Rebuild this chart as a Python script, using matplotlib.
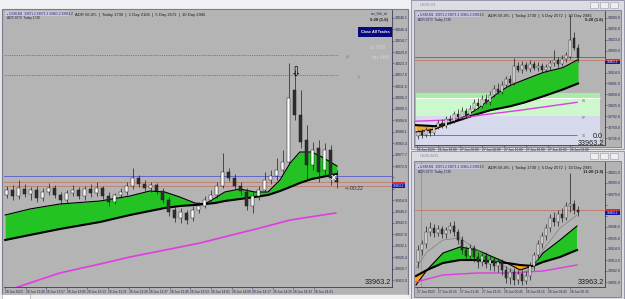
import numpy as np
import matplotlib
matplotlib.use("Agg")
import matplotlib.pyplot as plt
from matplotlib.patches import Rectangle
from matplotlib.ticker import MultipleLocator, FuncFormatter

plt.rcParams['font.family'] = ['Liberation Sans', 'DejaVu Sans']

W, H = 625, 299

# ---------------- left chart: US30,M1 ----------------
left_open = [33957.5, 33960, 33957, 33960.5, 33958, 33960, 33956, 33959, 33961, 33957.5,
             33955, 33958.5, 33960, 33957, 33960.5, 33958.5, 33961, 33957, 33954, 33957.5,
             33959, 33962, 33966, 33963, 33961, 33962.5, 33959.5, 33955, 33950, 33946,
             33948.5, 33946, 33950, 33952, 33955, 33957.5, 33962, 33969, 33966, 33962,
             33959, 33952, 33957, 33960, 33965, 33967, 33970, 33974, 34010, 33997.5,
             33985, 33972.5, 33981, 33970, 33980, 33966]
left_close = [33960, 33957, 33961, 33958, 33960, 33956, 33959, 33961, 33957.5, 33955,
              33958.5, 33960, 33957, 33960.5, 33958.5, 33961, 33957, 33954, 33957.5, 33959,
              33962, 33966, 33963, 33961, 33962.5, 33959.5, 33955, 33949, 33946, 33949,
              33945, 33950, 33952, 33955, 33957.5, 33962, 33969, 33966, 33962, 33959.5,
              33952, 33957, 33960, 33965, 33967, 33970, 33974, 34006, 33997.5, 33984,
              33972.5, 33980, 33969, 33980, 33966, 33964]
left_high = [33962, 33962.5, 33965, 33963, 33961.5, 33962, 33961, 33963.5, 33962.5, 33959,
             33960, 33962.5, 33961.5, 33962, 33963, 33964, 33962, 33959, 33958.5, 33961,
             33964, 33971, 33967.5, 33965, 33964, 33963.5, 33961, 33956.5, 33952, 33951,
             33950, 33952, 33954, 33957, 33960, 33964, 33978.5, 33971, 33968, 33964,
             33961, 33959, 33962, 33969, 33970, 33976, 33980, 34023.5, 34020, 34010,
             33992.5, 33984, 33985, 33983.5, 33982.5, 33970]
left_low = [33956, 33955, 33955.5, 33956.5, 33955, 33954, 33954.5, 33957.5, 33956, 33953,
            33953.5, 33957, 33955.5, 33955, 33956.5, 33957, 33955.5, 33952, 33953, 33956,
            33957.5, 33960.5, 33961.5, 33959.5, 33959, 33958, 33953.5, 33947, 33944, 33943.5,
            33943, 33944.5, 33948.5, 33951, 33953.5, 33956, 33961, 33964.5, 33960.5, 33957.5,
            33950, 33948.5, 33955, 33959, 33963, 33965, 33969, 33972.5, 33995, 33981,
            33965, 33970, 33964, 33967, 33962.5, 33961]
left_ema_x = [-0.3, 3.8, 8.8, 15.5, 20.5, 23.8, 26.3, 28.8, 31.3, 33, 34.7,
              36.3, 38.8, 41.3, 43.5, 45.5, 47.2, 48.8, 50.8, 52.5, 55]
left_ema_fast = [33947.5, 33950.5, 33953, 33954.5, 33957, 33959.5, 33959, 33956.5, 33953.5, 33953, 33956,
                 33959, 33960.5, 33959, 33959, 33965, 33973.5, 33979, 33979, 33976.5, 33972]
left_ema_slow = [33935, 33937.5, 33940.5, 33944, 33947.5, 33949.5, 33951, 33952, 33952.5, 33953, 33953.5,
                 33954.5, 33955.5, 33956.5, 33957.5, 33959.5, 33961.5, 33963.5, 33965.5, 33966.5, 33968]
left_ma_x = [1.3, 8.8, 15.5, 20.5, 27.2, 32.2, 38.8, 42.2, 47.2, 54.8]
left_ma_long = [33911, 33918.5, 33923, 33926.5, 33930.5, 33933.5, 33938.5, 33941, 33945, 33948.5]
left_levels_dotted = [34027.5, 34017.5]
left_level_blue = 33967
left_levels_brown = [33964, 33962]
left_time_pos = [-0.3, 3.2, 6.5, 10, 13.3, 16.8, 20.3, 23.7, 27.2, 30.5, 34, 37.5, 40.8, 44.3, 47.7, 51.2]
left_time_labels = ["28 Jun 2023", "28 Jun 12:49", "28 Jun 12:57", "28 Jun 13:05", "28 Jun 13:13",
                    "28 Jun 13:21", "28 Jun 13:29", "28 Jun 13:37", "28 Jun 13:45", "28 Jun 13:53",
                    "28 Jun 14:01", "28 Jun 14:09", "28 Jun 14:17", "28 Jun 14:25", "28 Jun 14:33",
                    "28 Jun 14:41"]

# ---------------- top right chart: US30,H1 ----------------
tr_open = [33732, 33744, 33735, 33750, 33741, 33759, 33771, 33762, 33783, 33777,
           33798, 33789, 33807, 33795, 33813, 33831, 33822, 33843, 33834, 33855,
           33873, 33864, 33885, 33903, 33891, 33945, 33933, 33948, 33936, 33951,
           33939, 33945, 33933, 33942, 33954, 33963, 33951, 33966, 33972, 34029, 33999]
tr_close = [33744, 33735, 33750, 33741, 33759, 33771, 33762, 33783, 33777, 33798,
            33789, 33807, 33795, 33813, 33831, 33822, 33843, 33834, 33855, 33873,
            33864, 33885, 33903, 33891, 33945, 33933, 33948, 33936, 33951, 33939,
            33945, 33933, 33942, 33954, 33963, 33951, 33966, 33978, 34023, 33999, 33969]
tr_high = [33750, 33753, 33759, 33756, 33765, 33780, 33783, 33792, 33795, 33807,
           33813, 33819, 33816, 33825, 33843, 33846, 33855, 33858, 33867, 33885,
           33891, 33897, 33915, 33918, 33969, 33957, 33960, 33957, 33963, 33960,
           33957, 33954, 33951, 33963, 33993, 33972, 33978, 33987, 34098, 34047, 34011]
tr_low = [33723, 33726, 33729, 33732, 33735, 33753, 33756, 33756, 33768, 33771,
          33783, 33780, 33786, 33789, 33807, 33813, 33816, 33828, 33825, 33849,
          33858, 33858, 33879, 33882, 33885, 33927, 33924, 33930, 33927, 33933,
          33930, 33924, 33927, 33933, 33945, 33942, 33945, 33957, 33966, 33993, 33957]
tr_ema_x = [-0.5, 4.25, 8, 11.75, 14.75, 18, 20.5, 23, 26.75, 31.25, 36.25, 40]
tr_ema_fast = [33744, 33753, 33771, 33792, 33813, 33843, 33867, 33885, 33903, 33924, 33939, 33963]
tr_ema_slow = [33765, 33762, 33771, 33786, 33798, 33810, 33816, 33822, 33834, 33852, 33873, 33891]
tr_ma_x = [-0.5, 6.75, 15.5, 25.5, 39.75]
tr_ma_long = [33777, 33780, 33795, 33810, 33834]
tr_zone_top = [33861, 33846, 33792]
tr_level_grey = 33735
tr_level_blue = 33972
tr_level_brown = 33963
tr_time_pos = [-0.25, 5, 10.5, 16, 21.5, 27, 32.5, 38]
tr_time_labels = ["26 Jun 2023", "26 Jun 19:00", "27 Jun 00:00", "27 Jun 06:00",
                  "27 Jun 11:00", "27 Jun 16:00", "27 Jun 22:00", "28 Jun 03:00"]

# ---------------- bottom right chart: US30,M15 ----------------
br_open = [33911, 33923, 33929, 33941, 33945, 33940, 33944, 33939, 33943, 33947,
           33941, 33933, 33923, 33917, 33925, 33916, 33911, 33917, 33909, 33913,
           33907, 33911, 33903, 33895, 33901, 33893, 33899, 33892, 33897, 33907,
           33918, 33929, 33937, 33945, 33955, 33951, 33959, 33955, 33967, 33969, 33963]
br_close = [33923, 33929, 33941, 33945, 33940, 33944, 33939, 33943, 33947, 33941,
            33933, 33923, 33917, 33925, 33916, 33911, 33917, 33909, 33913, 33907,
            33911, 33903, 33895, 33901, 33893, 33899, 33892, 33897, 33907, 33918,
            33929, 33937, 33945, 33955, 33951, 33959, 33955, 33967, 33969, 33963, 33961]
br_high = [33928, 33933, 33947, 33951, 33949, 33948, 33947, 33946, 33951, 33952,
           33944, 33937, 33927, 33929, 33928, 33921, 33920, 33921, 33917, 33916,
           33915, 33914, 33907, 33905, 33905, 33903, 33903, 33902, 33911, 33921,
           33933, 33941, 33949, 33959, 33961, 33963, 33965, 33971, 34000, 33973, 33967]
br_low = [33905, 33918, 33925, 33937, 33936, 33937, 33935, 33935, 33940, 33937,
          33929, 33919, 33913, 33915, 33911, 33905, 33907, 33905, 33903, 33902,
          33901, 33898, 33890, 33889, 33888, 33889, 33888, 33889, 33893, 33903,
          33915, 33925, 33933, 33941, 33947, 33947, 33951, 33953, 33961, 33959, 33957]
br_ema_x = [-0.5, 2.25, 6.25, 10.5, 14.75, 18.75, 22.25, 25.5, 28.75, 31.25, 35.5, 39.75]
br_ema_fast = [33888, 33903, 33920, 33926, 33923, 33916, 33910, 33903, 33907, 33920, 33933, 33947]
br_ema_slow = [33897, 33903, 33910, 33913, 33913, 33911, 33910, 33908, 33907, 33911, 33916, 33923]
br_ma_mid = [33905, 33921, 33933, 33935, 33923, 33913, 33905, 33899, 33905, 33923, 33945, 33958]
br_ma_x = [-0.5, 6.25, 14.75, 23, 31.25, 39.75]
br_ma_long = [33891, 33898, 33900, 33900, 33902, 33908]
br_level_brown = 33963
br_time_pos = [-0.25, 5, 10.5, 16, 21.5, 27, 32.5, 38]
br_time_labels = ["27 Jun 2023", "27 Jun 20:15", "27 Jun 21:45", "27 Jun 23:15",
                  "28 Jun 00:45", "28 Jun 02:15", "28 Jun 03:45", "28 Jun 05:15"]

current_price = 33963.2

CHART_BG = '#b4b4b4'
AXIS_TXT = '#24245a'
GREEN = '#22c322'
ORANGE = '#f5a623'
MAGENTA = '#e03ce0'


def rect(x0, y0, x1, y1):
    return [x0 / W, 1 - y1 / H, (x1 - x0) / W, (y1 - y0) / H]


def chart_axes(fig, box, xlim, ylim, tick_step, tag_gap):
    ax = fig.add_axes(rect(*box), zorder=2)
    ax.set_facecolor(CHART_BG)
    ax.set_xlim(*xlim)
    ax.set_ylim(*ylim)
    for s in ['left', 'top']:
        ax.spines[s].set_visible(False)
    for s in ['right', 'bottom']:
        ax.spines[s].set_color('#3a3a5a')
        ax.spines[s].set_linewidth(0.6)
    ax.yaxis.tick_right()
    ax.yaxis.set_major_locator(MultipleLocator(tick_step))
    # the price tag covers the scale labels next to the current price
    ax.yaxis.set_major_formatter(FuncFormatter(
        lambda v, p: '' if abs(v - current_price) < tag_gap else '%.1f' % v))
    ax.tick_params(axis='y', length=1.2, width=0.4, pad=0.8, labelsize=2.5,
                   labelcolor=AXIS_TXT, color='#3a3a5a')
    ax.tick_params(axis='x', length=1.2, width=0.4, pad=0.8, labelsize=2.3,
                   labelcolor=AXIS_TXT, color='#3a3a5a')
    return ax


def draw_candles(ax, o, c, h, l, width):
    o, c, h, l = map(np.asarray, (o, c, h, l))
    x = np.arange(len(o))
    ax.vlines(x, l, h, color='#1e1e1e', lw=0.5, zorder=4)
    bottom = np.minimum(o, c)
    height = np.maximum(np.abs(c - o), 0.3)
    faces = ['white' if cc >= oo else '#2e2e2e' for oo, cc in zip(o, c)]
    ax.bar(x, height, width=width, bottom=bottom, color=faces,
           edgecolor='#1e1e1e', linewidth=0.35, zorder=5)


def draw_ribbon(ax, xs, fast, slow, lw_fast=0.8, lw_slow=1.5):
    xs, fast, slow = map(np.asarray, (xs, fast, slow))
    ax.fill_between(xs, fast, slow, where=fast >= slow, color=GREEN,
                    interpolate=True, lw=0, zorder=2)
    ax.fill_between(xs, fast, slow, where=fast < slow, color=ORANGE,
                    interpolate=True, lw=0, zorder=2)
    ax.plot(xs, fast, color='black', lw=lw_fast, zorder=3)
    ax.plot(xs, slow, color='black', lw=lw_slow, zorder=3)


def set_time_axis(ax, pos, labels):
    ax.set_xticks(pos)
    ax.set_xticklabels(labels)
    for t in ax.get_xticklabels():
        t.set_horizontalalignment('left')


fig = plt.figure(figsize=(W / 100, H / 100), dpi=100)
fig.patch.set_facecolor('#e6e6e6')

# background layer: window frames and strips, in pixel coordinates
bg = fig.add_axes([0, 0, 1, 1], zorder=0)
bg.set_xlim(0, W)
bg.set_ylim(H, 0)
bg.axis('off')
bg.add_patch(Rectangle((0, 0), W, 9, color='#eef0f4'))
bg.add_patch(Rectangle((2, 9), 406, 288, facecolor=CHART_BG, edgecolor='#7a7a8e', lw=0.8))
bg.add_patch(Rectangle((0, 295), 408, 4, color='#f2f2f2'))
bg.add_patch(Rectangle((2, 294), 28, 5, facecolor='white', edgecolor='#9a9a9a', lw=0.4))
for y0, y1, title in [(0, 149, 'US30,H1'), (151, 299, 'US30,M15')]:
    bg.add_patch(Rectangle((411, y0), 213, y1 - y0, facecolor='#dcdde3', edgecolor='#8a8aa0', lw=0.6))
    bg.add_patch(Rectangle((414, y0 + 10), 207, y1 - y0 - 12, facecolor=CHART_BG,
                           edgecolor='#6a6a80', lw=0.5))
    bg.text(420, y0 + 5, title, fontsize=3, color='#8a8a9a', va='center')
    for bx in [590, 600, 610]:
        bg.add_patch(Rectangle((bx, y0 + 2), 8, 6, facecolor='#eeeeee', edgecolor='#9a9aaa', lw=0.4))

# ---- left chart ----
axL = chart_axes(fig, (4, 10, 392, 287), (-0.5, 64.17), (33911.5, 34050), 5.7, 4)
for lv in left_levels_dotted:
    axL.hlines(lv, -0.5, 55.2, color='#5e6e5e', lw=0.6, linestyles=(0, (1, 1.2)), zorder=1)
axL.axhline(left_level_blue, color='#5a5ad0', lw=0.6, zorder=1)
for lv in left_levels_brown:
    axL.axhline(lv, color='#c07a68', lw=0.6, zorder=1)
draw_ribbon(axL, left_ema_x, left_ema_fast, left_ema_slow)
axL.plot(left_ma_x, left_ma_long, color=MAGENTA, lw=1.2, zorder=3)
draw_candles(axL, left_open, left_close, left_high, left_low, 0.5)
set_time_axis(axL, left_time_pos, left_time_labels)
axL.text(48.2, 34018.5, '\u21e9', fontsize=9, ha='center', va='center',
         family='DejaVu Sans', color='black', zorder=6)
axL.text(54.5, 33965.5, 'X', fontsize=6, ha='center', va='center', color='white',
         fontweight='bold', zorder=6)

# ---- top right chart ----
axT = chart_axes(fig, (415, 11, 605, 145), (-0.75, 46.75), (33705, 34110), 33, 12)
axT.add_patch(Rectangle((-0.5, tr_zone_top[2]), 46, tr_zone_top[1] - tr_zone_top[2],
                        color='#cdf7cd', lw=0, zorder=0.5))
axT.add_patch(Rectangle((-0.5, tr_zone_top[1]), 46, tr_zone_top[0] - tr_zone_top[1],
                        color='#a6eea6', lw=0, zorder=0.5))
axT.add_patch(Rectangle((-0.5, 33690), 46, tr_zone_top[2] - 33690,
                        color='#d6daec', lw=0, zorder=0.5))
axT.hlines(tr_zone_top[1], -0.5, 45.5, color='white', lw=0.8, zorder=0.6)
axT.hlines(tr_level_grey, -0.5, 39.75, color='#6a6a6a', lw=0.6, zorder=1)
axT.axhline(tr_level_blue, color='#5a5ad0', lw=0.6, zorder=1)
axT.axhline(tr_level_brown, color='#c07a68', lw=0.6, zorder=1)
draw_ribbon(axT, tr_ema_x, tr_ema_fast, tr_ema_slow)
axT.plot(tr_ma_x, tr_ma_long, color=MAGENTA, lw=1.0, zorder=3)
draw_candles(axT, tr_open, tr_close, tr_high, tr_low, 0.5)
set_time_axis(axT, tr_time_pos, tr_time_labels)

# ---- bottom right chart ----
axB = chart_axes(fig, (415, 162, 605, 287), (-0.75, 46.75), (33886, 34011), 11, 8)
axB.axvline(0.75, color='#8c8c8c', lw=0.5, zorder=1)
axB.axhline(br_level_brown, color='#c07a68', lw=0.6, zorder=1)
draw_ribbon(axB, br_ema_x, br_ema_fast, br_ema_slow)
axB.plot(br_ema_x, br_ma_mid, color='#808080', lw=0.5, zorder=3)
axB.plot(br_ma_x, br_ma_long, color=MAGENTA, lw=1.0, zorder=3)
draw_candles(axB, br_open, br_close, br_high, br_low, 0.5)
set_time_axis(axB, br_time_pos, br_time_labels)

# overlay layer: chart texts, buttons and price tags, in pixel coordinates
ov = fig.add_axes([0, 0, 1, 1], zorder=5)
ov.set_xlim(0, W)
ov.set_ylim(H, 0)
ov.axis('off')
ov.patch.set_alpha(0)

for hx, hy, info, clock in [(5, 11, 'ADR 56.4%  |  Today 1730  |  1 Day 2106  |  5 Day 2572  |  10 Day 2945', None),
                            (416, 12, 'ADR 56.4%  |  Today 1730  |  5 Day 2572  |  10 Day 2945', '5:20 (1.8)'),
                            (416, 164, 'ADR 56.4%  |  Today 1730  |  5 Day 2572  |  10 Day 2945', '11:20 (1.8)')]:
    ov.add_patch(Rectangle((hx, hy), 64, 5, color='#c6c6dc', lw=0))
    ov.text(hx + 2, hy + 2.6, '\u25aa US30,M1  33971.2 33971.2 33961.2 33963.2', fontsize=2.3,
            color='#20205a', va='center')
    ov.text(hx + 2, hy + 7.5, 'ADR 3073  Today 1730', fontsize=2.3, color='#20205a', va='center')
    ov.text(hx + 72 if hx > 400 else 75, hy + 4, info, fontsize=3.0, color='#1c1c1c', va='center')
    if clock:
        ov.text(603, hy + 8, clock, fontsize=3.0, color='#1c1c1c', va='center', ha='right',
                fontweight='bold')

ov.text(388, 13, 'sss_hhh_ttt', fontsize=2.3, color='#20205a', va='center', ha='right')
ov.text(388, 20, '5:20 (1.8)', fontsize=3.0, color='#1c1c1c', va='center', ha='right',
        fontweight='bold')
ov.add_patch(Rectangle((358, 27), 34, 10, color='#07077e', lw=0))
ov.text(375, 32, 'Close All Trades', fontsize=2.7, color='white', fontweight='bold',
        ha='center', va='center')
ov.text(370, 47, 'tp 868', fontsize=4, color='#d2d2d2', va='center')
ov.text(372, 58, 'ttp 868', fontsize=4, color='#d2d2d2', va='center')
ov.text(346, 57, 'p/1', fontsize=2.3, color='#7a7a7a', va='center')
ov.text(358, 77, 'tp', fontsize=2.3, color='#7a7a7a', va='center')
ov.text(345, 189, '<--00:22', fontsize=3.6, color='#2a2a2a', va='center')
ov.text(391, 283, '33963.2', fontsize=5.2, color='#1c1c1c', va='center', ha='right')

ov.text(582, 101, 'R1', fontsize=2.3, color='#6a6a6a', va='center')
ov.text(582, 118, 'PP', fontsize=2.3, color='#6a6a6a', va='center')
ov.text(582, 136, 'S1', fontsize=2.3, color='#6a6a6a', va='center')
ov.text(603, 137, '0.0', fontsize=5.2, color='#1c1c1c', va='center', ha='right')
ov.text(604, 143.5, '33963.2', fontsize=5.2, color='#1c1c1c', va='center', ha='right')
ov.text(604, 283, '33963.2', fontsize=5.2, color='#1c1c1c', va='center', ha='right')

# current price tags on the price scales
for x0, x1, yt in [(392, 405, 182), (605, 620, 58.5), (605, 620, 209)]:
    ov.add_patch(Rectangle((x0, yt), x1 - x0, 2.3, color='#d43030', lw=0))
    ov.add_patch(Rectangle((x0, yt + 2.3), x1 - x0, 3.2, color='#1414a8', lw=0))
    ov.text((x0 + x1) / 2, yt + 3.9, '33963.2', fontsize=2.3, color='white', ha='center', va='center')

fig.savefig('out.png', dpi=100, facecolor=fig.get_facecolor())
